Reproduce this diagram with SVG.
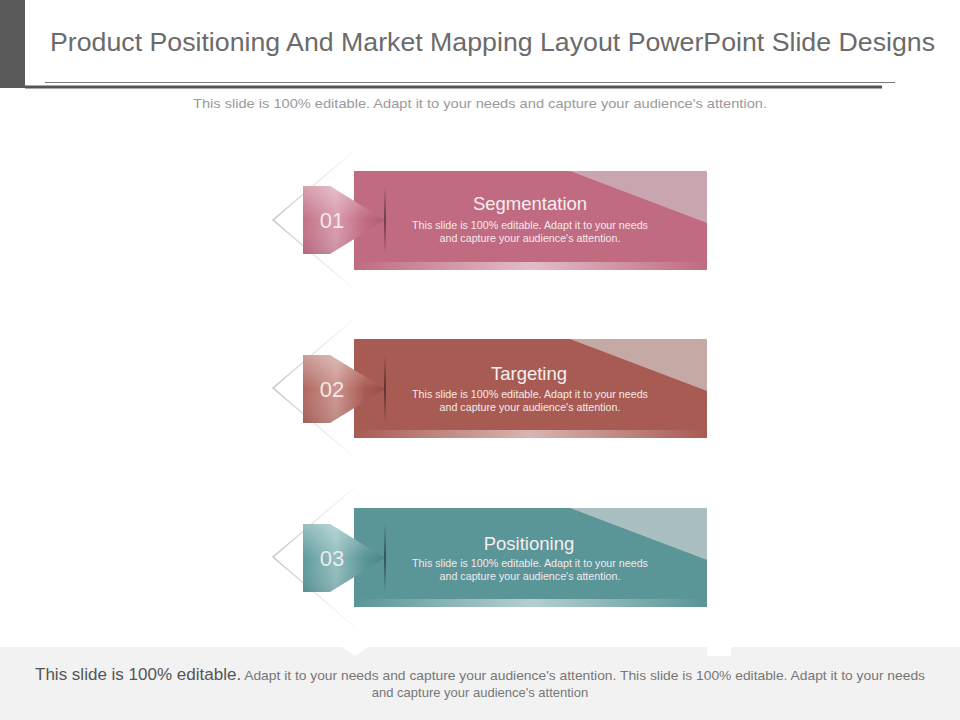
<svg xmlns="http://www.w3.org/2000/svg" width="960" height="720" viewBox="0 0 960 720">
<defs>
<style>
.title{font-family:"Liberation Sans",Arial,sans-serif;font-size:26px;fill:#6b6b6b}
.sub{font-family:"Liberation Sans",Arial,sans-serif;font-size:13px;fill:#9a9a9a}
.ct{font-family:"Liberation Sans",Arial,sans-serif;font-size:18.5px;fill:#f6eef0;text-anchor:middle}
.cb{font-family:"Liberation Sans",Arial,sans-serif;font-size:10.7px;fill:#f3e9ec;text-anchor:middle}
.num{font-family:"Liberation Sans",Arial,sans-serif;font-size:22px;fill:#f2e8ea;text-anchor:middle}
.foot{font-family:"Liberation Sans",Arial,sans-serif;font-size:13px;fill:#777}
.dia{fill:none;stroke:url(#diaG);stroke-width:1.5}
</style>
<linearGradient id="diaG" x1="0" y1="0" x2="0" y2="1">
<stop offset="0" stop-color="#e6e6e6" stop-opacity="0.2"/>
<stop offset="0.5" stop-color="#c4c4c4"/>
<stop offset="1" stop-color="#e6e6e6" stop-opacity="0.2"/>
</linearGradient>
<linearGradient id="vline" x1="0" y1="0" x2="0" y2="1">
<stop offset="0" stop-color="#ddd" stop-opacity="0"/>
<stop offset="0.1" stop-color="#d6d6d6"/>
<stop offset="0.9" stop-color="#d6d6d6"/>
<stop offset="1" stop-color="#ddd" stop-opacity="0.3"/>
</linearGradient>
<linearGradient id="shine" x1="0" y1="0" x2="1" y2="0">
<stop offset="0" stop-color="#fff" stop-opacity="0"/>
<stop offset="0.5" stop-color="#fff" stop-opacity="0.55"/>
<stop offset="1" stop-color="#fff" stop-opacity="0"/>
</linearGradient>
<linearGradient id="tipLine" x1="0" y1="0" x2="0" y2="1">
<stop offset="0" stop-color="#000" stop-opacity="0"/>
<stop offset="0.5" stop-color="#000" stop-opacity="0.45"/>
<stop offset="1" stop-color="#000" stop-opacity="0"/>
</linearGradient>
<linearGradient id="chev1" x1="0" y1="0" x2="1" y2="0">
<stop offset="0" stop-color="#c27086"/>
<stop offset="0.4" stop-color="#d99cad"/>
<stop offset="0.75" stop-color="#c06b82"/>
<stop offset="1" stop-color="#b05d74"/>
</linearGradient>
<linearGradient id="chev2" x1="0" y1="0" x2="1" y2="0">
<stop offset="0" stop-color="#b06860"/>
<stop offset="0.4" stop-color="#cc958f"/>
<stop offset="0.75" stop-color="#a85b52"/>
<stop offset="1" stop-color="#984e46"/>
</linearGradient>
<linearGradient id="chev3" x1="0" y1="0" x2="1" y2="0">
<stop offset="0" stop-color="#5f9a9c"/>
<stop offset="0.4" stop-color="#93bfc0"/>
<stop offset="0.75" stop-color="#5a9597"/>
<stop offset="1" stop-color="#4b8587"/>
</linearGradient>
<linearGradient id="gloss" x1="0" y1="0" x2="0" y2="1">
<stop offset="0" stop-color="#fff" stop-opacity="0.35"/>
<stop offset="0.5" stop-color="#fff" stop-opacity="0"/>
<stop offset="1" stop-color="#000" stop-opacity="0.08"/>
</linearGradient>
</defs>

<rect width="960" height="720" fill="#ffffff"/>

<g id="header">
<rect x="0" y="0" width="25" height="88" fill="#595959"/>
<text class="title" x="50" y="51" textLength="885" lengthAdjust="spacingAndGlyphs">Product Positioning And Market Mapping Layout PowerPoint Slide Designs</text>
<line x1="45" y1="82.5" x2="895" y2="82.5" stroke="#777" stroke-width="1"/>
<line x1="25" y1="87" x2="882" y2="87" stroke="#555" stroke-width="3"/>
<text class="sub" x="480" y="108" text-anchor="middle" textLength="574" lengthAdjust="spacingAndGlyphs">This slide is 100% editable. Adapt it to your needs and capture your audience's attention.</text>
</g>

<g id="footer">
<rect x="0" y="647" width="960" height="73" fill="#f2f2f2"/>
<polygon points="342,647 368,647 355,656" fill="#ffffff"/>
<rect x="707" y="640" width="24" height="16" fill="#ffffff"/>
<text class="foot" x="35" y="680" textLength="890" lengthAdjust="spacingAndGlyphs"><tspan font-size="16" fill="#555">This slide is 100% editable.</tspan> Adapt it to your needs and capture your audience's attention. This slide is 100% editable. Adapt it to your needs</text>
<text class="foot" x="480" y="697" text-anchor="middle">and capture your audience's attention</text>
</g>

<g id="connectors">
<line x1="707" y1="140" x2="707" y2="655" stroke="url(#vline)" stroke-width="2"/>
</g>

<g id="item1">
<polyline class="dia" points="355,150 273,220 355,290"/>
<rect x="354" y="171" width="353" height="99" fill="#c06b82"/>
<polygon points="570,171 707,171 707,223" fill="#c9a5af"/>
<rect x="354" y="262" width="353" height="8" fill="url(#shine)"/>
<rect x="384" y="186" width="2" height="68" fill="url(#tipLine)"/>
<polygon points="303,186 330,186 385,220 330,254 303,254" fill="url(#chev1)"/>
<polygon points="303,186 330,186 385,220 330,254 303,254" fill="url(#gloss)"/>
<text class="num" x="332" y="228">01</text>
<text class="ct" x="530" y="210">Segmentation</text>
<text class="cb" x="530" y="229">This slide is 100% editable.  Adapt it to your needs</text>
<text class="cb" x="530" y="242">and capture your audience's attention.</text>
</g>

<g id="item2">
<polyline class="dia" points="355,318 273,388 355,458"/>
<rect x="354" y="339" width="353" height="99" fill="#a85b52"/>
<polygon points="570,339 707,339 707,391" fill="#c4a9a5"/>
<rect x="354" y="430" width="353" height="8" fill="url(#shine)"/>
<rect x="384" y="355" width="2" height="68" fill="url(#tipLine)"/>
<polygon points="303,355 330,355 385,389 330,423 303,423" fill="url(#chev2)"/>
<polygon points="303,355 330,355 385,389 330,423 303,423" fill="url(#gloss)"/>
<text class="num" x="332" y="397">02</text>
<text class="ct" x="529" y="380">Targeting</text>
<text class="cb" x="530" y="398">This slide is 100% editable.  Adapt it to your needs</text>
<text class="cb" x="530" y="411">and capture your audience's attention.</text>
</g>

<g id="item3">
<polyline class="dia" points="355,487 273,557 355,627"/>
<rect x="354" y="508" width="353" height="99" fill="#5a9597"/>
<polygon points="570,508 707,508 707,560" fill="#a9bfc0"/>
<rect x="354" y="599" width="353" height="8" fill="url(#shine)"/>
<rect x="384" y="524" width="2" height="68" fill="url(#tipLine)"/>
<polygon points="303,524 330,524 385,558 330,592 303,592" fill="url(#chev3)"/>
<polygon points="303,524 330,524 385,558 330,592 303,592" fill="url(#gloss)"/>
<text class="num" x="332" y="566">03</text>
<text class="ct" x="529" y="550">Positioning</text>
<text class="cb" x="530" y="567">This slide is 100% editable.  Adapt it to your needs</text>
<text class="cb" x="530" y="580">and capture your audience's attention.</text>
</g>
</svg>
